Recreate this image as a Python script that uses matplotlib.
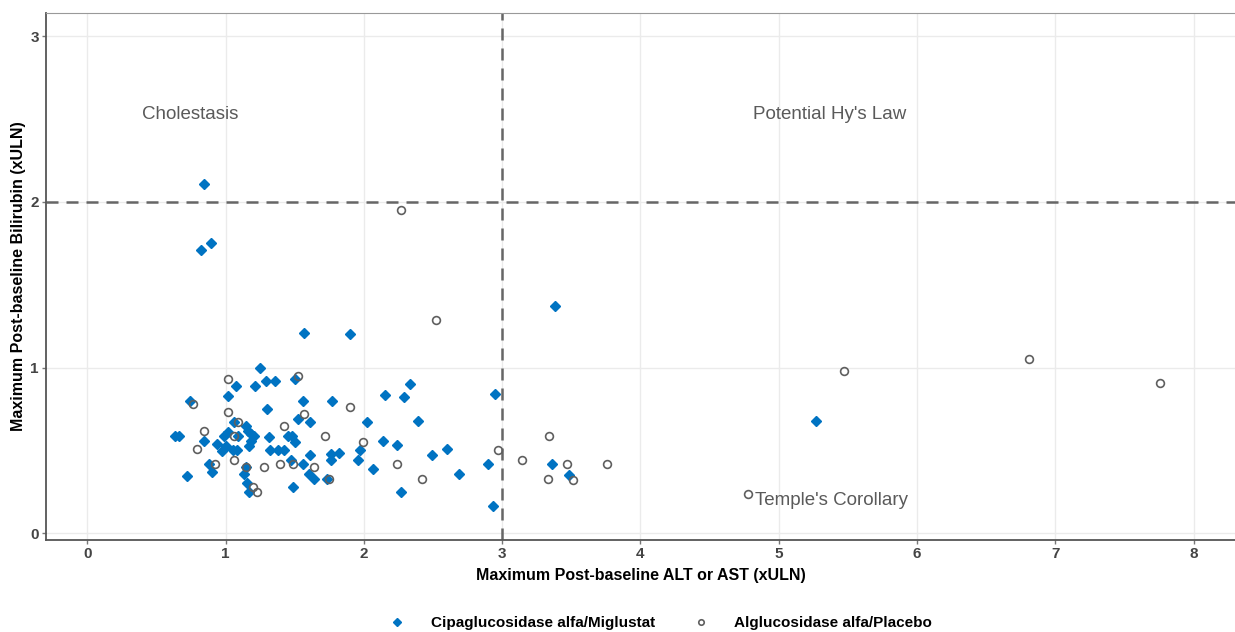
#!/usr/bin/env python3

import numpy as np
import matplotlib.pyplot as plt

plt.rcParams['font.family'] = ['Liberation Sans', 'DejaVu Sans']

# Cipaglucosidase alfa/Miglustat: (max ALT/AST xULN, max bilirubin xULN)
cipaX = [0.84, 0.82, 0.895, 1.57, 1.90, 1.25, 1.29, 1.36, 1.50, 1.075,
         1.21, 1.02, 0.74, 1.56, 1.77, 1.30, 1.52, 1.61, 1.06, 1.15,
         1.16, 1.18, 1.205, 0.63, 0.66, 1.02, 0.99, 1.087, 1.31, 1.45,
         1.48, 1.50, 0.84, 1.18, 1.17, 0.94, 1.00, 0.97, 1.05, 1.08,
         1.32, 1.38, 1.42, 1.61, 1.76, 1.82, 1.76, 0.88, 1.47, 1.56,
         1.15, 0.90, 1.135, 1.60, 1.64, 1.73, 0.72, 1.155, 1.485, 1.17,
         2.33, 2.15, 2.29, 2.95, 2.02, 2.39, 2.14, 2.24, 1.97, 2.60,
         2.49, 1.96, 2.065, 2.90, 2.69, 2.27, 2.93, 3.38, 3.36, 3.48,
         5.27]
cipaY = [2.11, 1.71, 1.75, 1.21, 1.20, 1.00, 0.92, 0.92, 0.93, 0.89,
         0.89, 0.83, 0.80, 0.80, 0.80, 0.75, 0.69, 0.67, 0.67, 0.65,
         0.62, 0.60, 0.59, 0.59, 0.59, 0.61, 0.59, 0.59, 0.58, 0.59,
         0.59, 0.55, 0.56, 0.56, 0.53, 0.54, 0.53, 0.495, 0.50, 0.50,
         0.50, 0.50, 0.50, 0.475, 0.48, 0.485, 0.44, 0.42, 0.44, 0.42,
         0.40, 0.37, 0.356, 0.356, 0.33, 0.33, 0.345, 0.306, 0.28, 0.25,
         0.90, 0.835, 0.82, 0.84, 0.67, 0.68, 0.555, 0.535, 0.50, 0.51,
         0.475, 0.445, 0.39, 0.42, 0.356, 0.25, 0.165, 1.37, 0.42, 0.354,
         0.68]

# Alglucosidase alfa/Placebo
algX = [2.27, 2.52, 1.52, 1.02, 0.76, 1.57, 1.02, 1.09, 0.84, 1.42,
        1.72, 0.79, 1.06, 0.925, 1.485, 1.39, 1.28, 1.15, 1.64, 1.75,
        1.20, 1.23, 1.06, 1.90, 1.99, 2.97, 3.14, 2.24, 2.42, 3.335,
        3.47, 3.76, 3.33, 3.51, 4.78, 5.47, 6.81, 7.76]
algY = [1.95, 1.29, 0.95, 0.93, 0.78, 0.72, 0.73, 0.67, 0.62, 0.65,
        0.59, 0.51, 0.44, 0.42, 0.42, 0.42, 0.40, 0.40, 0.40, 0.33,
        0.28, 0.25, 0.59, 0.76, 0.55, 0.50, 0.445, 0.416, 0.33, 0.587,
        0.42, 0.42, 0.33, 0.32, 0.24, 0.98, 1.055, 0.91]

xTicks = [0, 1, 2, 3, 4, 5, 6, 7, 8]
yTicks = [0, 1, 2, 3]

# Quadrant labels
quadText = ['Cholestasis', "Potential Hy's Law", "Temple's Corollary"]
quadX = [0.745, 5.37, 5.38]
quadY = [2.53, 2.53, 0.2]

blue = '#0073C2'
grey = '#5f5f5f'

fig = plt.figure(figsize=(12.35, 6.32), dpi=100)
ax = fig.add_axes([0.0372, 0.1456, 0.9628, 0.8338])

ax.plot(cipaX, cipaY, ls='none', marker='D', ms=5.4, color=blue,
        mec=blue, label='Cipaglucosidase alfa/Miglustat', zorder=3)
ax.plot(algX, algY, ls='none', marker='o', ms=5.6, mfc='none', mec=grey,
        mew=1.2, label='Alglucosidase alfa/Placebo', zorder=4)

# reference lines at 3 x ULN (ALT/AST) and 2 x ULN (bilirubin)
dash = (0, (4.8, 3.2))
ax.axvline(3, color='#666666', lw=1.8, ls=dash, zorder=2)
ax.axhline(2, color='#666666', lw=1.8, ls=dash, zorder=2)

for t, x, y in zip(quadText, quadX, quadY):
    ax.text(x, y, t, ha='center', va='center', fontsize=13.5,
            color='#5a5a5a', zorder=5)

ax.set_xlim(-0.30, 8.30)
ax.set_ylim(-0.04, 3.14)
ax.set_xticks(xTicks)
ax.set_yticks(yTicks)
ax.grid(True, color='#EBEBEB', lw=1.0, zorder=0)
ax.set_axisbelow(True)

for lab in ax.get_xticklabels() + ax.get_yticklabels():
    lab.set_fontweight('bold')
    lab.set_fontsize(11)
    lab.set_color('#444444')
ax.tick_params(length=3, width=1, color='#777777', pad=2)

for side in ['left', 'bottom']:
    ax.spines[side].set_color('#555555')
    ax.spines[side].set_linewidth(1.3)
ax.spines['top'].set_color('#999999')
ax.spines['right'].set_visible(False)

ax.set_xlabel('Maximum Post-baseline ALT or AST (xULN)', fontsize=11.5,
              fontweight='bold', labelpad=5)
ax.set_ylabel('Maximum Post-baseline Bilirubin (xULN)', fontsize=11.5,
              fontweight='bold', labelpad=3)

leg = fig.legend(loc='center', bbox_to_anchor=(0.532, 0.014), ncol=2,
                 frameon=False, markerscale=0.7, handletextpad=1.2,
                 columnspacing=2.0, prop={'weight': 'bold', 'size': 11})

fig.savefig('out.png', dpi=100)
plt.close()
